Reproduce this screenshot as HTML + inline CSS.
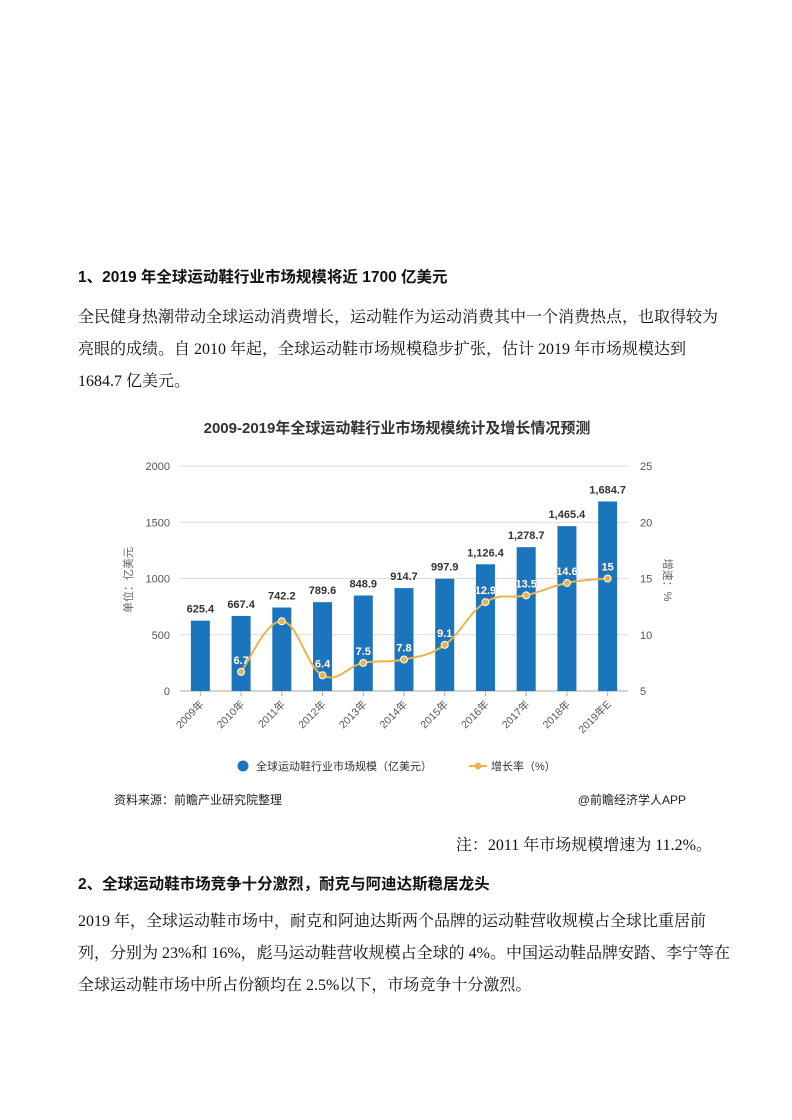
<!DOCTYPE html>
<html><head><meta charset="utf-8">
<style>
body{margin:0;width:792px;height:1120px;background:#fff;position:relative;overflow:hidden;font-family:"Liberation Serif","Noto Serif CJK SC",serif;color:#111}
.t{position:absolute;white-space:nowrap;font-size:16px;line-height:20px}
.h{font-family:"Liberation Sans","Noto Sans CJK SC",sans-serif;font-weight:bold;font-size:15.5px}
svg text{font-family:"Liberation Sans","Noto Sans CJK SC",sans-serif}
</style></head><body>
<div class="t h" style="left:78px;top:268px">1、2019 年全球运动鞋行业市场规模将近 1700 亿美元</div>
<div class="t" style="left:78px;top:308px">全民健身热潮带动全球运动消费增长，运动鞋作为运动消费其中一个消费热点，也取得较为</div>
<div class="t" style="left:78px;top:340px">亮眼的成绩。自 2010 年起，全球运动鞋市场规模稳步扩张，估计 2019 年市场规模达到</div>
<div class="t" style="left:78px;top:372px">1684.7 亿美元。</div>

<svg id="chart" style="position:absolute;left:0;top:0" width="792" height="1120"></svg>

<div class="t" style="right:80px;top:836px">注：2011 年市场规模增速为 11.2%。</div>
<div class="t h" style="left:78px;top:875px">2、全球运动鞋市场竞争十分激烈，耐克与阿迪达斯稳居龙头</div>
<div class="t" style="left:78px;top:912px">2019 年，全球运动鞋市场中，耐克和阿迪达斯两个品牌的运动鞋营收规模占全球比重居前</div>
<div class="t" style="left:78px;top:944px">列，分别为 23%和 16%，彪马运动鞋营收规模占全球的 4%。中国运动鞋品牌安踏、李宁等在</div>
<div class="t" style="left:78px;top:976px">全球运动鞋市场中所占份额均在 2.5%以下，市场竞争十分激烈。</div>

<script>
const categories=["2009年","2010年","2011年","2012年","2013年","2014年","2015年","2016年","2017年","2018年","2019年E"];
const marketSize=[625.4,667.4,742.2,789.6,848.9,914.7,997.9,1126.4,1278.7,1465.4,1684.7];
const sizeLabels=["625.4","667.4","742.2","789.6","848.9","914.7","997.9","1,126.4","1,278.7","1,465.4","1,684.7"];
const growth=[null,6.7,11.2,6.4,7.5,7.8,9.1,12.9,13.5,14.6,15];
const growthLabels=["","6.7","","6.4","7.5","7.8","9.1","12.9","13.5","14.6","15"];
const leftTicks=[0,500,1000,1500,2000];
const rightTicks=[5,10,15,20,25];

const svg=document.getElementById('chart');
const NS='http://www.w3.org/2000/svg';
function mk(tag,attrs,txt){const e=document.createElementNS(NS,tag);for(const k in attrs)e.setAttribute(k,attrs[k]);if(txt!=null)e.textContent=txt;svg.appendChild(e);return e;}
const X0=180,X1=628,Y0=691,Y1=466;
const yL=v=>Y0-(v-0)/(2000-0)*(Y0-Y1);
const yR=v=>Y0-(v-5)/(25-5)*(Y0-Y1);
const step=(X1-X0)/categories.length;
const xC=i=>X0+step*(i+0.5);

let t=mk('text',{x:397,y:433,'text-anchor':'middle','font-size':15,'font-weight':'bold',fill:'#333'},'2009-2019年全球运动鞋行业市场规模统计及增长情况预测');


leftTicks.forEach((v,i)=>{
  const g=mk('line',{x1:X0,x2:X1,y1:yL(v),y2:yL(v),stroke:i===0?'#aaa':'#ddd','stroke-width':1});
  
  const l=mk('text',{x:170,y:yL(v)+4,'text-anchor':'end','font-size':11,fill:'#555'},String(v));
  
});
rightTicks.forEach(v=>{
  const l=mk('text',{x:640,y:yR(v)+4,'text-anchor':'start','font-size':11,fill:'#555'},String(v));
  
});
t=mk('text',{x:0,y:0,transform:'translate(132,580) rotate(-90)','text-anchor':'middle','font-size':11,fill:'#666'},'单位：亿美元');

t=mk('text',{x:0,y:0,transform:'translate(664,580) rotate(90)','text-anchor':'middle','font-size':11,fill:'#666'},'增速：%');


categories.forEach((c,i)=>{
  const x=xC(i);
  const b=mk('rect',{x:x-9.5,y:yL(marketSize[i]),width:19,height:Y0-yL(marketSize[i]),fill:'#1b75bc'});
  
  const l=mk('text',{x:x,y:yL(marketSize[i])-8,'text-anchor':'middle','font-size':11,'font-weight':'bold',fill:'#333'},sizeLabels[i]);
  
  const tk=mk('line',{x1:x,x2:x,y1:Y0,y2:Y0+5,stroke:'#aaa'});
  
  const xl=mk('text',{x:0,y:0,transform:`translate(${x+4},${Y0+14}) rotate(-45)`,'text-anchor':'end','font-size':10.5,fill:'#555'},c);
  
});

// smooth line (Catmull-Rom)
const pts=[];growth.forEach((v,i)=>{if(v!=null)pts.push([xC(i),yR(v)]);});
let d='M'+pts[0][0]+','+pts[0][1];
for(let i=0;i<pts.length-1;i++){
  const p0=pts[i-1]||pts[i],p1=pts[i],p2=pts[i+1],p3=pts[i+2]||p2;
  const k=0.2;
  d+=` C${p1[0]+(p2[0]-p0[0])*k},${p1[1]+(p2[1]-p0[1])*k} ${p2[0]-(p3[0]-p1[0])*k},${p2[1]-(p3[1]-p1[1])*k} ${p2[0]},${p2[1]}`;
}
t=mk('path',{d:d,fill:'none',stroke:'#e8b44c','stroke-width':2});

growth.forEach((v,i)=>{
  if(v==null)return;
  const c=mk('circle',{cx:xC(i),cy:yR(v),r:3.5,fill:'#e8b44c',stroke:'#fff','stroke-width':1});
  
  if(growthLabels[i]){
    const l=mk('text',{x:xC(i),y:yR(v)-8,'text-anchor':'middle','font-size':11,'font-weight':'bold',fill:'#fff',stroke:'#5a6f86','stroke-width':0.6,'paint-order':'stroke'},growthLabels[i]);
    
  }
});

// legend
t=mk('circle',{cx:243,cy:766,r:5.5,fill:'#1b75bc'});

t=mk('text',{x:256,y:770,'font-size':11,fill:'#333'},'全球运动鞋行业市场规模（亿美元）');

t=mk('line',{x1:469,x2:487,y1:766,y2:766,stroke:'#e8b44c','stroke-width':2});

t=mk('circle',{cx:478,cy:766,r:3.5,fill:'#e8b44c'});

t=mk('text',{x:491,y:770,'font-size':11,fill:'#333'},'增长率（%）');


t=mk('text',{x:114,y:804,'font-size':12,fill:'#222'},'资料来源：前瞻产业研究院整理');

t=mk('text',{x:686,y:804,'text-anchor':'end','font-size':12,fill:'#222'},'@前瞻经济学人APP');

</script>
</body></html>
